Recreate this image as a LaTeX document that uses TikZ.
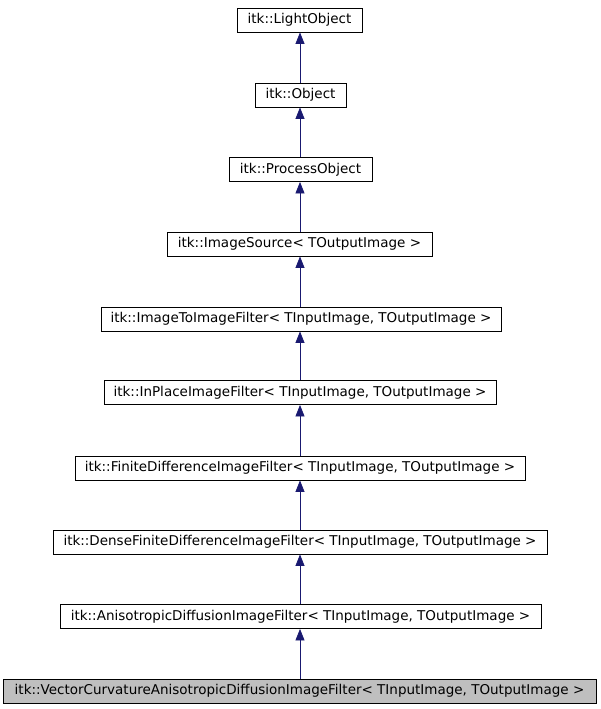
\documentclass[tikz,border=0pt]{standalone}
\usepackage{fontspec}
\setmainfont{DejaVu Sans}
\usetikzlibrary{arrows.meta}
\definecolor{edgeblue}{HTML}{191970}
\definecolor{leafgray}{HTML}{BFBFBF}
\begin{document}
\begin{tikzpicture}[x=1pt,y=-1pt,
  cls/.style={draw=black, line width=0.8pt, fill=white, minimum height=24pt, inner sep=0pt, font=\fontsize{13.5}{16}\selectfont, anchor=center},
  leaf/.style={cls, fill=leafgray},
  inh/.style={draw=edgeblue, line width=0.8pt, -{Triangle[length=11.5pt,width=9pt,fill=edgeblue]}}]
\useasboundingbox (0,0) rectangle (600,709);
\node[cls, minimum width=125pt] (n0) at (299.5,20) {itk::LightObject};
\node[cls, minimum width=91pt] (n1) at (300.5,95) {itk::Object};
\node[cls, minimum width=143pt] (n2) at (300.5,169.5) {itk::ProcessObject};
\node[cls, minimum width=265pt] (n3) at (299.5,244) {itk::ImageSource< TOutputImage >};
\node[cls, minimum width=400pt] (n4) at (301,319) {itk::ImageToImageFilter< TInputImage, TOutputImage >};
\node[cls, minimum width=392pt] (n5) at (300,392.5) {itk::InPlaceImageFilter< TInputImage, TOutputImage >};
\node[cls, minimum width=450pt] (n6) at (300,468) {itk::FiniteDifferenceImageFilter< TInputImage, TOutputImage >};
\node[cls, minimum width=494pt] (n7) at (300,542) {itk::DenseFiniteDifferenceImageFilter< TInputImage, TOutputImage >};
\node[cls, minimum width=481pt] (n8) at (300.5,616.5) {itk::AnisotropicDiffusionImageFilter< TInputImage, TOutputImage >};
\node[leaf, minimum width=593pt] (n9) at (299.5,691) {itk::VectorCurvatureAnisotropicDiffusionImageFilter< TInputImage, TOutputImage >};
\foreach \c/\p in {n1/n0,n2/n1,n3/n2,n4/n3,n5/n4,n6/n5,n7/n6,n8/n7,n9/n8}
  \draw[inh] (\c.north -| 300,0) -- (\p.south -| 300,0);
\end{tikzpicture}
\end{document}
